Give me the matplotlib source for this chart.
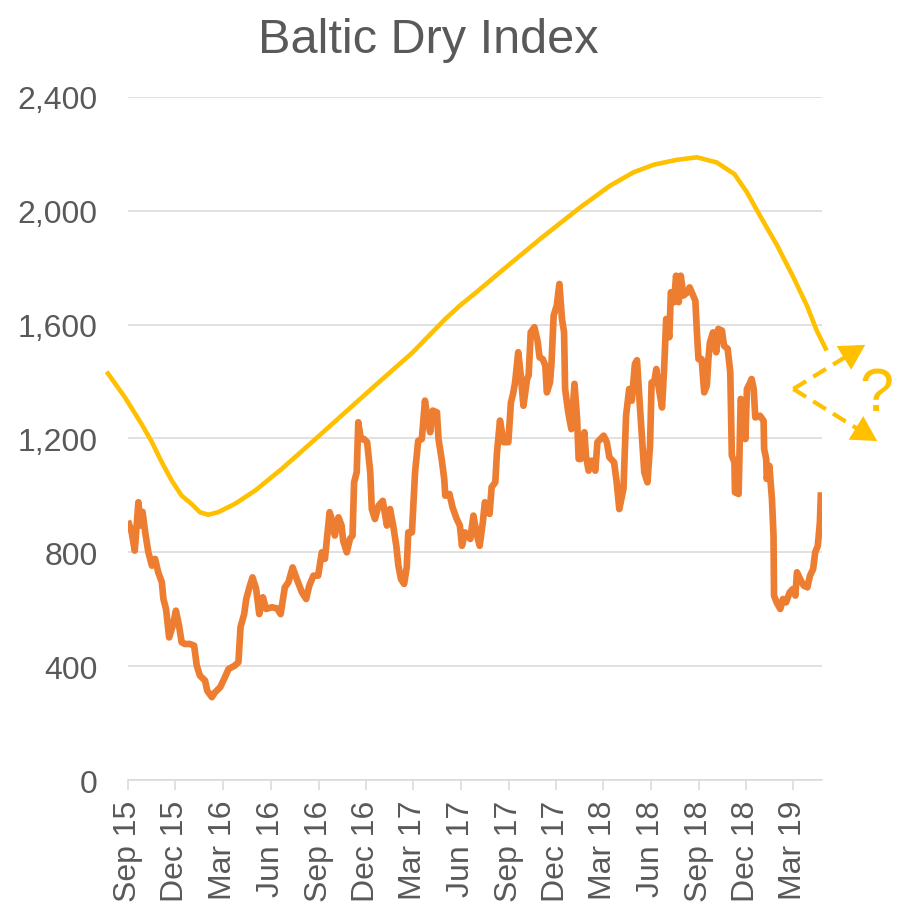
import numpy as np
import pandas as pd
import matplotlib
matplotlib.use("Agg")
import matplotlib.pyplot as plt
import matplotlib.dates as mdates

plt.rcParams['font.family'] = ['Liberation Sans', 'DejaVu Sans']

# days since 1 Sep 2015 and index level
bdi_days = [0, 7, 13, 20, 24, 28, 33, 39, 46, 52, 58, 65, 68, 73, 79, 86, 92, 98, 103, 109,
            119, 127, 132, 138, 148, 152, 161, 167, 177, 186, 193, 205, 212, 216, 223, 227, 233, 239, 246, 252,
            259, 265, 276, 286, 293, 301, 308, 316, 324, 334, 342, 348, 356, 365, 372, 378, 387, 393, 397, 404,
            410, 413, 420, 426, 431, 434, 439, 442, 447, 453, 459, 465, 468, 474, 481, 489, 497, 503, 509, 515,
            519, 524, 530, 535, 538, 545, 551, 557, 564, 570, 575, 580, 585, 593, 596, 602, 607, 609, 617, 623,
            631, 637, 641, 647, 657, 663, 670, 675, 681, 685, 694, 698, 705, 708, 714, 721, 730, 735, 739, 743,
            749, 754, 759, 766, 769, 773, 780, 786, 790, 796, 801, 804, 810, 813, 817, 823, 828, 833, 837, 839,
            845, 851, 857, 862, 865, 869, 876, 879, 884, 890, 897, 901, 913, 919, 924, 933, 938, 943, 951, 956,
            962, 967, 973, 977, 983, 991, 997, 1002, 1005, 1010, 1014, 1018, 1025, 1029, 1033, 1039, 1042, 1048,
            1052, 1057, 1061, 1066, 1074, 1078, 1082, 1089, 1092, 1095, 1101, 1106, 1111, 1114, 1117, 1123, 1129,
            1133, 1140, 1144, 1151, 1156, 1159, 1164, 1165, 1172, 1176, 1181, 1185, 1188, 1193, 1197, 1201, 1204,
            1213, 1220, 1221, 1225, 1226, 1231, 1236, 1239, 1240, 1245, 1252, 1257, 1263, 1270, 1276, 1281, 1284,
            1290, 1297, 1304, 1309, 1315, 1319, 1324, 1328, 1330]
bdi_values = [911, 871, 806, 976, 894, 942, 871, 801, 753, 777, 730, 695, 636, 601, 501, 542, 595, 542, 484, 478,
              478, 472, 402, 367, 349, 314, 291, 308, 326, 361, 390, 402, 414, 537, 583, 636, 677, 712, 671, 583,
              642, 601, 607, 603, 583, 677, 695, 747, 706, 659, 636, 683, 718, 718, 800, 777, 941, 905, 859, 923,
              894, 841, 800, 847, 859, 1046, 1081, 1257, 1198, 1198, 1187, 1081, 952, 917, 964, 981, 894, 952, 894, 823,
              753, 706, 689, 747, 870, 870, 1081, 1192, 1198, 1333, 1268, 1222, 1298, 1292, 1198, 1128, 1058, 999, 1005, 958,
              917, 894, 823, 870, 847, 929, 859, 823, 905, 976, 935, 1029, 1046, 1146, 1263, 1187, 1187, 1327, 1356, 1397,
              1503, 1421, 1315, 1409, 1421, 1573, 1591, 1544, 1485, 1479, 1456, 1362, 1397, 1468, 1632, 1667, 1743, 1620, 1573, 1374,
              1292, 1233, 1392, 1269, 1128, 1128, 1222, 1140, 1087, 1122, 1087, 1187, 1210, 1187, 1134, 1116, 1046, 952, 1023, 1280,
              1374, 1333, 1462, 1475, 1300, 1081, 1046, 1175, 1397, 1397, 1444, 1386, 1309, 1444, 1620, 1556, 1714, 1679,
              1772, 1679, 1772, 1702, 1714, 1731, 1714, 1684, 1573, 1479, 1479, 1362, 1386, 1479, 1538, 1573, 1503,
              1585, 1579, 1526, 1515, 1433, 1140, 1116, 1011, 1005, 1339, 1315, 1198, 1374, 1392, 1409, 1374, 1274,
              1280, 1262, 1163, 1128, 1058, 1104, 987, 859, 648, 624, 601, 636, 624, 659, 671, 648, 730,
              706, 683, 677, 718, 741, 800, 823, 905, 1011]

# hand-drawn trend curve
trend_days = [-41, -6, 26, 46, 65, 84, 103, 122, 138, 154, 173, 205, 244, 295, 353, 417, 481, 545, 609,
              637, 666, 714, 791, 868, 925, 970, 1009, 1053, 1092, 1130, 1164, 1188, 1213, 1246, 1277,
              1303, 1322, 1341]
trend_values = [1435, 1345, 1251, 1187, 1116, 1052, 999, 970, 941, 932, 941, 970, 1017, 1093, 1187, 1292, 1397,
                1500, 1620, 1667, 1710, 1784, 1901, 2012, 2088, 2135, 2162, 2179, 2188, 2170, 2129, 2065,
                1983, 1878, 1767, 1667, 1579, 1509]

y_ticks = [0, 400, 800, 1200, 1600, 2000, 2400]

start = pd.Timestamp("2015-09-01")
bdi_dates = start + pd.to_timedelta(bdi_days, unit="D")
trend_dates = start + pd.to_timedelta(trend_days, unit="D")

grey = "#595959"
orange = "#ED7D31"
yellow = "#FFC000"

fig = plt.figure(figsize=(9, 9.03), dpi=100)
ax = fig.add_axes([0.1422, 0.1351, 0.7711, 0.7564])

ax.set_ylim(0, 2400)
ax.set_xlim(start, start + pd.Timedelta(days=1332))
ax.set_yticks(y_ticks)
ax.set_yticklabels(["{:,}".format(v) for v in y_ticks])
ax.yaxis.grid(True, color="#D9D9D9", linewidth=1.1)
ax.set_axisbelow(True)

for s in ["top", "right", "left"]:
    ax.spines[s].set_visible(False)
ax.spines["bottom"].set_color("#D9D9D9")
ax.spines["bottom"].set_linewidth(1.1)

ax.xaxis.set_major_locator(mdates.MonthLocator(bymonth=[3, 6, 9, 12]))
ax.xaxis.set_major_formatter(mdates.DateFormatter("%b %y"))
ax.tick_params(axis="x", length=7, width=1.1, color="#D9D9D9", labelcolor=grey,
               labelsize=23, labelrotation=90, pad=7)
ax.tick_params(axis="y", length=0, labelcolor=grey, labelsize=23, pad=22)

ax.plot(trend_dates, trend_values, color=yellow, linewidth=3.3, clip_on=False,
        solid_capstyle="butt", solid_joinstyle="round", zorder=3)
ax.plot(bdi_dates, bdi_values, color=orange, linewidth=4.8, solid_joinstyle="round",
        solid_capstyle="butt", zorder=4)

fig.text(0.4756, 0.941, "Baltic Dry Index", fontsize=35, color=grey, ha="center", va="baseline")

# dashed arrows and question mark
def d(n):
    return mdates.date2num(start + pd.Timedelta(days=n))

vertex = (d(1277), 1374)
tips = [(d(1415), 1529), (d(1438), 1191)]
for tip in tips:
    vx, vy = vertex
    tx, ty = tip
    ex = vx + (tx - vx) * 0.86
    ey = vy + (ty - vy) * 0.86
    ax.plot([vx, ex], [vy, ey], color=yellow, linewidth=3.0, dashes=(3.6, 2.0),
            clip_on=False, zorder=5)
    ax.annotate("", xy=tip, xytext=(ex, ey),
                arrowprops=dict(arrowstyle="-|>,head_length=0.9,head_width=0.5",
                                color=yellow, lw=0, mutation_scale=20, shrinkA=0, shrinkB=0),
                annotation_clip=False, zorder=5)

ax.text(d(1436), 1356, "?", color=yellow, fontsize=44, ha="center", va="center",
        clip_on=False)

fig.savefig("out.png", dpi=100)
